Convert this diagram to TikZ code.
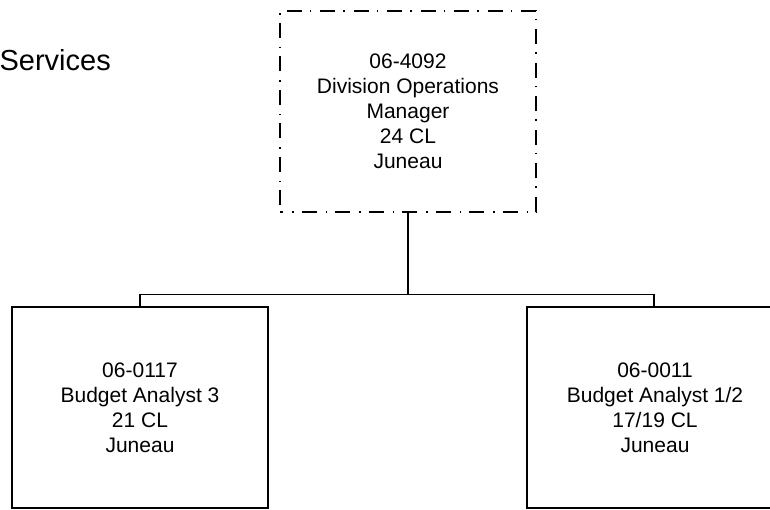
\documentclass[tikz,border=0pt]{standalone}
\usepackage{fontspec}
\setmainfont{Liberation Sans}
\usetikzlibrary{calc}
\begin{document}
\begin{tikzpicture}[x=1pt,y=1pt,
  posbox/.style={draw=black, line width=1.5pt, minimum width=256pt, minimum height=201pt,
    inner sep=0pt, align=center, font=\fontsize{21}{25}\selectfont},
  vacant/.style={posbox, line width=1.4pt, dash pattern=on 15pt off 9pt on 1.5pt off 8pt, dash phase=12pt},
  conn/.style={draw=black, line width=1.5pt}]
\useasboundingbox (0,0) rectangle (770,-510);
\clip (0,0) rectangle (770,-510);
\fill[white] (0,0) rectangle (770,-510);
\node[anchor=base east, font=\fontsize{29}{33}\selectfont, inner sep=0pt] (title) at (111,-71) {Services};
\node[vacant] (top) at (408,-111.5) {06-4092\\Division Operations\\Manager\\24 CL\\Juneau};
\node[posbox] (left) at (140,-407.5) {06-0117\\Budget Analyst 3\\21 CL\\Juneau};
\node[posbox] (right) at (655,-407.5) {06-0011\\Budget Analyst 1/2\\17/19 CL\\Juneau};
\coordinate (bus) at ($(left.north)+(0,12)$);
\draw[conn] (top.south) -- (top.south |- bus);
\draw[conn] (left.north) -- (bus) -| ([xshift=-1pt]right.north);
\end{tikzpicture}
\end{document}
